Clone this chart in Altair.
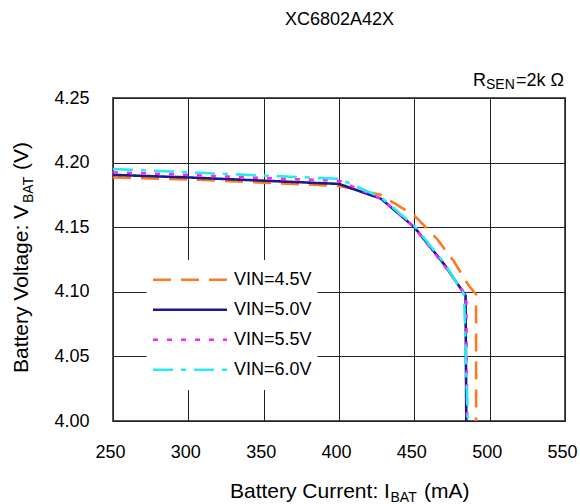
import altair as alt
import pandas as pd

# ---- data ----
SERIES = ["VIN=4.5V", "VIN=5.0V", "VIN=5.5V", "VIN=6.0V"]
COLORS = ["#FF7A1F", "#1A1A8A", "#FF22FF", "#22EEF0"]
DASHES = [[18, 10], [1, 0], [5, 9], [20, 8, 5, 8]]

VIN45_X = [250, 300, 350, 400, 428, 450, 465, 476, 486, 491, 491]
VIN45_Y = [4.1885, 4.187, 4.1845, 4.182, 4.175, 4.159, 4.141, 4.124, 4.105, 4.098, 4.000]
VIN50_X = [250, 300, 350, 400, 428, 450, 470, 484, 484.5]
VIN50_Y = [4.1905, 4.1885, 4.186, 4.1835, 4.172, 4.150, 4.121, 4.097, 4.000]
VIN55_X = [250, 300, 350, 400, 428, 450, 470, 484.5, 485]
VIN55_Y = [4.1925, 4.1905, 4.188, 4.186, 4.172, 4.150, 4.120, 4.097, 4.000]
VIN60_X = [250, 300, 350, 400, 428, 450, 470, 483, 485.5]
VIN60_Y = [4.195, 4.1925, 4.190, 4.1875, 4.173, 4.151, 4.122, 4.098, 4.000]

X_TICKS = [250, 300, 350, 400, 450, 500, 550]
Y_TICKS = [4.00, 4.05, 4.10, 4.15, 4.20, 4.25]

TITLE = "XC6802A42X"
X_TITLE_MAIN, X_TITLE_SUB, X_TITLE_END = "Battery Current: I", "BAT", "(mA)"
Y_TITLE_MAIN, Y_TITLE_SUB, Y_TITLE_END = "Battery Voltage: V", "BAT", "(V)"
RSEN_MAIN, RSEN_SUB, RSEN_END = "R", "SEN", "=2k Ω"

FONT = "Liberation Sans"

rows = []
for name, xs, ys in zip(SERIES, [VIN45_X, VIN50_X, VIN55_X, VIN60_X],
                        [VIN45_Y, VIN50_Y, VIN55_Y, VIN60_Y]):
    for i, (xv, yv) in enumerate(zip(xs, ys)):
        rows.append({"series": name, "current": xv, "voltage": yv, "idx": i})
df = pd.DataFrame(rows)

legend = alt.Legend(
    title=None, orient="none", legendX=33.5, legendY=162,
    fillColor="white", padding=5, symbolType="stroke", symbolSize=5476,
    symbolStrokeWidth=2.6, clipHeight=29.5, rowPadding=0,
    labelFont=FONT, labelFontSize=18, labelColor="black", labelOffset=5.5,
)

lines = alt.Chart(df).mark_line(strokeWidth=2.6).encode(
    x=alt.X("current:Q", scale=alt.Scale(domain=[250, 550], nice=False, zero=False),
            axis=alt.Axis(values=X_TICKS, title=None, labelFlush=False, labelPadding=22,
                          labelOffset=-3)),
    y=alt.Y("voltage:Q", scale=alt.Scale(domain=[4.0, 4.25], nice=False, zero=False),
            axis=alt.Axis(values=Y_TICKS, format=".2f", title=None, labelFlush=False,
                          labelPadding=24)),
    color=alt.Color("series:N", scale=alt.Scale(domain=SERIES, range=COLORS), legend=legend),
    strokeDash=alt.StrokeDash("series:N", scale=alt.Scale(domain=SERIES, range=DASHES),
                              legend=legend),
    order=alt.Order("idx:Q"),
)


def txt(s, x, y, size, align="left", angle=0):
    kw = dict(font=FONT, fontSize=size, align=align, baseline="alphabetic", color="black")
    if angle:
        kw["angle"] = angle
    return alt.Chart(pd.DataFrame({"t": [s]})).mark_text(**kw).encode(
        text="t:N", x=alt.value(x), y=alt.value(y))


texts = [
    txt(TITLE, 226.5, -73, 18, align="center"),
    txt(X_TITLE_MAIN, 117, 400, 21),
    txt(X_TITLE_SUB, 277.5, 404, 14),
    txt(X_TITLE_END, 311, 400, 21),
    txt(Y_TITLE_MAIN, -85, 275, 21, angle=270),
    txt(Y_TITLE_SUB, -80, 105, 14, angle=270),
    txt(Y_TITLE_END, -85, 72, 21, angle=270),
    txt(RSEN_MAIN, 360, -12, 18),
    txt(RSEN_SUB, 373, -9, 14),
    txt(RSEN_END, 403, -12, 18),
]

chart = alt.layer(lines, *texts).properties(
    width=452, height=323,
    autosize=alt.AutoSizeParams(type="none"),
    padding={"left": 113, "top": 98, "right": 15, "bottom": 83},
    background="white",
).configure_view(
    stroke="#555555", strokeWidth=2
).configure_axis(
    grid=True, gridColor="#222222", gridWidth=1, gridOpacity=1,
    ticks=False, domain=False,
    labelFont=FONT, labelFontSize=18, labelColor="black",
)

chart.save("out.html", embed_options={"renderer": "svg", "actions": False})
